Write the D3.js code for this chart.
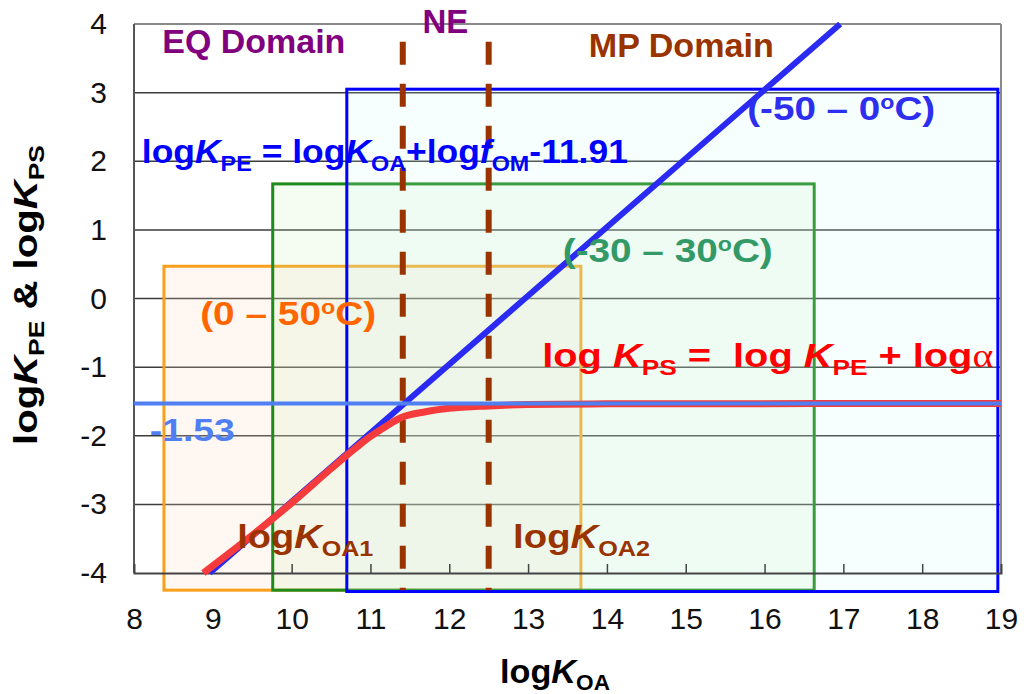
<!DOCTYPE html>
<html>
<head>
<meta charset="utf-8">
<script src="https://cdn.jsdelivr.net/npm/d3@7"></script>
<style>
  body { margin: 0; background: #fff; }
  text { font-family: "Liberation Sans", Arial, sans-serif; white-space: pre; }
</style>
</head>
<body>
<svg id="chart"></svg>
<script>
// axis ticks
const xTicks = [8, 9, 10, 11, 12, 13, 14, 15, 16, 17, 18, 19];
const yTicks = [-4, -3, -2, -1, 0, 1, 2, 3, 4];

// temperature domains as logKOA x log K ranges
const boxNames = ["0-50", "-30-30", "-50-0"];
const boxX0 = [8.38, 9.76, 10.70];
const boxX1 = [13.67, 16.63, 18.96];
const boxY0 = [-4.25, -4.25, -4.27];
const boxY1 = [0.47, 1.67, 3.05];

// NE boundaries (logKOA1, logKOA2)
const neLines = [11.41, 12.5];

// logKPE line (slope 1)
const peX = [8.96, 16.96];
const peY = [-4, 4];

// logKPS curve
const psX = [8.88, 9.5, 10.0, 10.5, 10.8, 11.0, 11.2, 11.4, 11.7, 12.0, 12.5, 13.0, 14.0, 19.0];
const psY = [-4.0, -3.45, -2.98, -2.48, -2.19, -2.01, -1.86, -1.73, -1.65, -1.60, -1.565, -1.545, -1.535, -1.53];

// steady-state limit
const limitY = -1.53;

const W = 1027, H = 694;
const svg = d3.select("#chart").attr("width", W).attr("height", H);

const x = d3.scaleLinear().domain([8, 19]).range([134, 1001]);
const y = d3.scaleLinear().domain([-4, 4]).range([573, 24]);

// gridlines
svg.append("g")
    .selectAll("line")
    .data(yTicks.filter(d => d > -4 && d < 4))
    .enter().append("line")
    .attr("x1", x(8)).attr("x2", x(19))
    .attr("y1", d => y(d)).attr("y2", d => y(d))
    .attr("stroke", "#3c3c3c")
    .attr("stroke-width", 1.5);

// domain boxes
const boxFill = ["rgba(255,215,190,0.2)", "rgba(190,240,180,0.16)", "rgba(205,250,250,0.16)"];
const boxStroke = ["#f8a01c", "#1d8c1d", "#0000ff"];
svg.append("g")
    .selectAll("rect")
    .data(boxNames)
    .enter().append("rect")
    .attr("x", (d, i) => x(boxX0[i]))
    .attr("y", (d, i) => y(boxY1[i]))
    .attr("width", (d, i) => x(boxX1[i]) - x(boxX0[i]))
    .attr("height", (d, i) => y(boxY0[i]) - y(boxY1[i]))
    .attr("fill", (d, i) => boxFill[i])
    .attr("stroke", (d, i) => boxStroke[i])
    .attr("stroke-width", 3);

// plot frame
svg.append("line").attr("x1", x(8)).attr("x2", x(19)).attr("y1", y(4)).attr("y2", y(4))
    .attr("stroke", "#8a8a8a").attr("stroke-width", 2);
svg.append("line").attr("x1", x(19)).attr("x2", x(19)).attr("y1", y(4)).attr("y2", y(-4))
    .attr("stroke", "#8a8a8a").attr("stroke-width", 2);
svg.append("line").attr("x1", x(8)).attr("x2", x(8)).attr("y1", y(4)).attr("y2", y(-4))
    .attr("stroke", "#555").attr("stroke-width", 2);

// x axis
const xAxis = d3.axisBottom(x).tickValues(xTicks).tickSize(-9).tickPadding(35).tickFormat(d => String(d));
const gx = svg.append("g").attr("transform", `translate(0,${y(-4)})`).call(xAxis);
gx.attr("font-size", 30).attr("font-family", "Liberation Sans, Arial, sans-serif");
gx.select(".domain").attr("stroke", "#444").attr("stroke-width", 2);
gx.selectAll(".tick line").attr("stroke", "#444").attr("stroke-width", 1.5)
    .filter(d => d === 8 || d === 19).remove();
gx.selectAll(".tick text").attr("fill", "#111");

// y axis labels
const yAxis = d3.axisLeft(y).tickValues(yTicks).tickSize(0).tickPadding(27).tickFormat(d => String(d));
const gy = svg.append("g").attr("transform", `translate(${x(8)},0)`).call(yAxis);
gy.attr("font-size", 30).attr("font-family", "Liberation Sans, Arial, sans-serif");
gy.select(".domain").remove();
gy.selectAll(".tick text").attr("fill", "#111");

// NE dashed lines
svg.append("g")
    .selectAll("line")
    .data(neLines)
    .enter().append("line")
    .attr("x1", d => x(d)).attr("x2", d => x(d))
    .attr("y1", y(3.74)).attr("y2", y(-4.25))
    .attr("stroke", "#993300")
    .attr("stroke-width", 6)
    .attr("stroke-dasharray", "23,19");

const line = d3.line().x(d => x(d[0])).y(d => y(d[1]));

// logKPE line
svg.append("path")
    .datum(peX.map((d, i) => [d, peY[i]]))
    .attr("d", line)
    .attr("fill", "none")
    .attr("stroke", "#2a2af2")
    .attr("stroke-width", 6);

// logKPS curve
svg.append("path")
    .datum(psX.map((d, i) => [d, psY[i]]))
    .attr("d", line.curve(d3.curveMonotoneX))
    .attr("fill", "none")
    .attr("stroke", "#f53b3b")
    .attr("stroke-width", 7);

// -1.53 limit
svg.append("line")
    .attr("x1", x(8)).attr("x2", x(19))
    .attr("y1", y(limitY)).attr("y2", y(limitY))
    .attr("stroke", "#4f7ff2")
    .attr("stroke-width", 4);

// rich text helper: parts = [text, style] where style: i italic, b sub, p sup, s serif
function rich(px, py, parts, size, color, len, anchor) {
    const t = svg.append("text")
        .attr("x", px).attr("y", py)
        .attr("font-size", size)
        .attr("font-weight", "bold")
        .attr("fill", color)
        .attr("text-anchor", anchor || "start");
    let shift = 0;
    parts.forEach(p => {
        const s = t.append("tspan").text(p[0]);
        const st = p[1] || "";
        let target = 0;
        if (st.includes("i")) s.attr("font-style", "italic");
        if (st.includes("b")) { s.attr("font-size", size * 0.66); target = size * 0.22; }
        if (st.includes("p")) { s.attr("font-size", size * 0.6); target = -size * 0.32; }
        if (st.includes("s")) s.attr("font-family", "Liberation Serif, serif").attr("font-weight", "normal");
        if (target !== shift) { s.attr("dy", target - shift); shift = target; }
    });
    if (len) t.attr("textLength", len).attr("lengthAdjust", "spacingAndGlyphs");
    return t;
}

rich(x(8.36), y(3.58), [["EQ Domain"]], 34, "#800080", 183);
rich(x(11.95), y(3.87), [["NE"]], 33, "#800080", null, "middle");
rich(x(13.77), y(3.52), [["MP Domain"]], 34, "#993300", 185);
rich(x(15.78), y(2.60), [["(-50 – 0"], ["o", "p"], ["C)"]], 34, "#2e2ef0", 188);
rich(x(8.10), y(1.97), [["log"], ["K", "i"], ["PE", "b"], [" = log"], ["K", "i"], ["OA", "b"],
    ["+log"], ["f", "i"], ["OM", "b"], ["-11.91"]], 34, "#0000ff", 486);
rich(x(13.44), y(0.53), [["(-30 – 30"], ["o", "p"], ["C)"]], 34, "#339966", 210);
rich(x(8.84), y(-0.39), [["(0 – 50"], ["o", "p"], ["C)"]], 34, "#ff6600", 176);
rich(x(13.18), y(-1.0), [["log "], ["K", "i"], ["PS", "b"], [" =  log "], ["K", "i"], ["PE", "b"],
    [" + log"], ["α", "s"]], 34, "#ff0000", 451);
rich(x(8.20), y(-2.08), [["-1.53"]], 32, "#4f7ff2", 85);
rich(x(9.31), y(-3.64), [["log"], ["K", "i"], ["OA1", "b"]], 34, "#993300", 136);
rich(x(12.81), y(-3.64), [["log"], ["K", "i"], ["OA2", "b"]], 34, "#993300", 137);

// axis titles
rich(500, 683, [["log"], ["K", "i"], ["OA", "b"]], 34, "#000", 110);
rich(0, 0, [["log"], ["K", "i"], ["PE", "b"], [" & log"], ["K", "i"], ["PS", "b"]], 34, "#000", 300, "middle")
    .attr("transform", "translate(37,295) rotate(-90)");
</script>
</body>
</html>
